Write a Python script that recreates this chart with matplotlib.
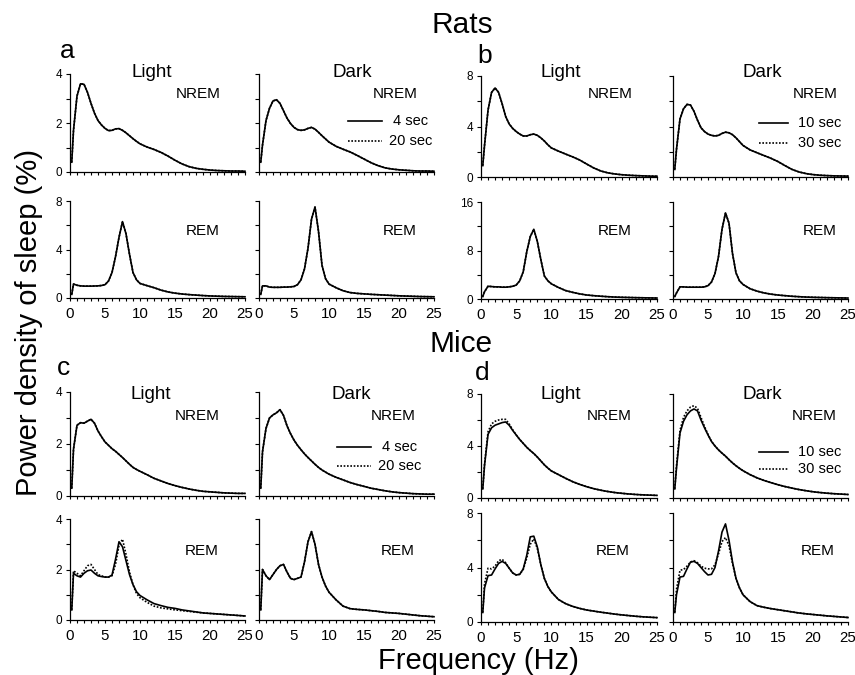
import matplotlib
matplotlib.use('Agg')
import matplotlib.pyplot as plt
from matplotlib.ticker import MultipleLocator
from matplotlib.lines import Line2D

plt.rcParams['font.family'] = ['Liberation Sans', 'DejaVu Sans']

# ---------------- data ----------------
freq = [0.25, 0.5, 1, 1.5, 2, 2.5, 3, 3.5, 4, 4.5, 5, 5.5, 6, 6.5, 7, 7.5, 8, 8.5, 9, 9.5,
        10, 11, 12, 13, 14, 15, 16, 17, 18, 19, 20, 21, 22, 23, 24, 25]

# Rats (a: 4 s vs 20 s epochs; b: 10 s vs 30 s epochs)
rat_a_nrem_light = [0.4, 1.7, 3.1, 3.6, 3.58, 3.25, 2.8, 2.4, 2.1, 1.92, 1.78, 1.69, 1.70, 1.76, 1.77, 1.70, 1.60, 1.48, 1.36, 1.25,
                    1.15, 1.02, 0.92, 0.80, 0.65, 0.48, 0.33, 0.22, 0.15, 0.11, 0.08, 0.06, 0.05, 0.04, 0.04, 0.03]
rat_a_nrem_dark = [0.4, 1.1, 2.1, 2.6, 2.9, 2.95, 2.8, 2.5, 2.2, 1.98, 1.82, 1.73, 1.70, 1.72, 1.78, 1.82, 1.75, 1.62, 1.48, 1.35,
                   1.22, 1.05, 0.93, 0.82, 0.68, 0.53, 0.38, 0.26, 0.17, 0.12, 0.09, 0.07, 0.05, 0.04, 0.04, 0.03]
rat_a_rem_light = [0.3, 1.15, 1.05, 1.0, 0.98, 0.98, 0.98, 0.99, 1.0, 1.03, 1.1, 1.4, 2.1, 3.4, 5.0, 6.3, 5.3, 3.6, 2.1, 1.5,
                   1.2, 1.02, 0.85, 0.65, 0.5, 0.4, 0.33, 0.28, 0.24, 0.2, 0.17, 0.15, 0.13, 0.12, 0.11, 0.1]
rat_a_rem_dark = [0.3, 1.0, 1.0, 0.9, 0.88, 0.88, 0.88, 0.9, 0.9, 0.92, 0.95, 1.1, 1.5, 2.4, 4.1, 6.5, 7.5, 5.5, 2.7, 1.6,
                  1.15, 0.85, 0.6, 0.45, 0.38, 0.34, 0.3, 0.27, 0.24, 0.21, 0.18, 0.16, 0.14, 0.12, 0.11, 0.1]
rat_b_nrem_light = [0.9, 2.5, 5.3, 6.7, 7.05, 6.7, 5.8, 4.8, 4.2, 3.85, 3.6, 3.4, 3.25, 3.25, 3.35, 3.4, 3.3, 3.1, 2.85, 2.55,
                    2.3, 2.05, 1.82, 1.6, 1.35, 1.03, 0.72, 0.48, 0.33, 0.24, 0.18, 0.14, 0.11, 0.09, 0.07, 0.06]
rat_b_nrem_dark = [0.6, 2.2, 4.6, 5.4, 5.75, 5.7, 5.2, 4.5, 3.9, 3.6, 3.4, 3.3, 3.25, 3.3, 3.45, 3.55, 3.5, 3.35, 3.1, 2.8,
                   2.5, 2.15, 1.92, 1.7, 1.48, 1.22, 0.9, 0.6, 0.4, 0.27, 0.19, 0.14, 0.11, 0.09, 0.08, 0.07]
rat_b_rem_light = [0.4, 1.2, 2.1, 2.05, 2.0, 2.0, 1.95, 1.95, 2.0, 2.1, 2.3, 3.0, 4.5, 7.8, 10.3, 11.5, 9.5, 6.5, 3.8, 3.0,
                   2.5, 1.9, 1.4, 1.1, 0.85, 0.66, 0.55, 0.46, 0.38, 0.32, 0.28, 0.25, 0.22, 0.2, 0.18, 0.16]
rat_b_rem_dark = [0.4, 1.0, 2.0, 2.0, 1.95, 1.95, 1.95, 1.95, 1.95, 2.0, 2.2, 2.8, 4.2, 7.0, 11.5, 14.2, 12.5, 7.5, 4.3, 3.0,
                  2.4, 1.7, 1.3, 1.0, 0.8, 0.65, 0.55, 0.45, 0.38, 0.32, 0.28, 0.25, 0.22, 0.2, 0.18, 0.16]

# Mice (c: 4 s vs 20 s epochs; d: 10 s vs 30 s epochs)
mouse_c_nrem_light = [0.3, 1.8, 2.72, 2.82, 2.8, 2.88, 2.95, 2.8, 2.5, 2.28, 2.08, 1.95, 1.82, 1.72, 1.6, 1.48, 1.35, 1.22, 1.1, 1.02,
                      0.95, 0.82, 0.68, 0.58, 0.48, 0.4, 0.33, 0.27, 0.22, 0.18, 0.16, 0.14, 0.12, 0.11, 0.1, 0.1]
mouse_c_nrem_dark = [0.3, 1.7, 2.6, 3.0, 3.12, 3.2, 3.32, 3.1, 2.7, 2.4, 2.15, 1.95, 1.78, 1.62, 1.48, 1.35, 1.22, 1.1, 1.0, 0.92,
                     0.84, 0.72, 0.62, 0.52, 0.44, 0.37, 0.3, 0.25, 0.2, 0.16, 0.13, 0.11, 0.09, 0.08, 0.07, 0.07]
mouse_c_rem_light_4s = [0.4, 1.85, 1.75, 1.7, 1.85, 1.95, 1.98, 1.85, 1.75, 1.72, 1.7, 1.7, 1.78, 2.4, 3.1, 2.9, 2.35, 1.8, 1.4, 1.12,
                        0.97, 0.8, 0.65, 0.57, 0.5, 0.46, 0.4, 0.36, 0.32, 0.28, 0.26, 0.24, 0.22, 0.2, 0.18, 0.16]
mouse_c_rem_light_20s = [0.4, 1.95, 1.85, 1.75, 1.95, 2.15, 2.2, 2.0, 1.8, 1.75, 1.7, 1.7, 1.75, 2.2, 2.95, 3.2, 2.6, 1.9, 1.4, 1.05,
                         0.88, 0.7, 0.55, 0.48, 0.44, 0.4, 0.37, 0.34, 0.31, 0.28, 0.26, 0.24, 0.22, 0.2, 0.18, 0.16]
mouse_c_rem_dark = [0.4, 2.0, 1.75, 1.6, 1.8, 2.0, 2.15, 2.2, 1.9, 1.65, 1.6, 1.65, 1.7, 2.3, 3.1, 3.5, 3.0, 2.2, 1.7, 1.35,
                    1.1, 0.8, 0.55, 0.45, 0.42, 0.4, 0.37, 0.34, 0.3, 0.28, 0.26, 0.23, 0.2, 0.17, 0.15, 0.13]
mouse_d_nrem_light_10s = [0.7, 2.5, 4.9, 5.4, 5.6, 5.7, 5.8, 5.85, 5.6, 5.2, 4.85, 4.5, 4.2, 3.9, 3.65, 3.42, 3.15, 2.85, 2.55, 2.3,
                          2.08, 1.8, 1.52, 1.26, 1.05, 0.87, 0.72, 0.6, 0.5, 0.42, 0.36, 0.31, 0.27, 0.24, 0.22, 0.2]
mouse_d_nrem_light_30s = [0.7, 2.6, 5.1, 5.7, 5.9, 6.0, 6.05, 6.05, 5.7, 5.25, 4.85, 4.5, 4.2, 3.9, 3.65, 3.42, 3.15, 2.85, 2.55, 2.3,
                          2.08, 1.8, 1.52, 1.26, 1.05, 0.87, 0.72, 0.6, 0.5, 0.42, 0.36, 0.31, 0.27, 0.24, 0.22, 0.2]
mouse_d_nrem_dark_10s = [0.7, 2.3, 5.0, 5.9, 6.4, 6.7, 6.85, 6.7, 6.0, 5.4, 4.85, 4.35, 4.0, 3.7, 3.45, 3.22, 2.95, 2.7, 2.48, 2.28,
                         2.1, 1.8, 1.55, 1.35, 1.18, 1.02, 0.88, 0.76, 0.65, 0.56, 0.48, 0.42, 0.37, 0.33, 0.3, 0.27]
mouse_d_nrem_dark_30s = [0.7, 2.5, 5.2, 6.2, 6.7, 7.0, 7.1, 6.9, 6.2, 5.5, 4.9, 4.35, 4.0, 3.7, 3.45, 3.22, 2.95, 2.7, 2.48, 2.28,
                         2.1, 1.8, 1.55, 1.35, 1.18, 1.02, 0.88, 0.76, 0.65, 0.56, 0.48, 0.42, 0.37, 0.33, 0.3, 0.27]
mouse_d_rem_light_10s = [0.7, 2.5, 3.4, 3.45, 3.9, 4.3, 4.45, 4.3, 3.95, 3.6, 3.45, 3.5, 3.9, 4.9, 6.25, 6.3, 5.5, 4.2, 3.2, 2.6,
                         2.2, 1.65, 1.35, 1.15, 1.0, 0.88, 0.8, 0.72, 0.65, 0.58, 0.52, 0.47, 0.42, 0.38, 0.35, 0.32]
mouse_d_rem_light_30s = [0.7, 2.8, 3.95, 3.9, 4.1, 4.5, 4.6, 4.35, 3.95, 3.6, 3.45, 3.5, 3.85, 4.7, 5.7, 6.1, 5.4, 4.2, 3.2, 2.6,
                         2.2, 1.65, 1.35, 1.15, 1.0, 0.88, 0.8, 0.72, 0.65, 0.58, 0.52, 0.47, 0.42, 0.38, 0.35, 0.32]
mouse_d_rem_dark_10s = [0.7, 2.0, 3.3, 3.35, 3.9, 4.4, 4.45, 4.3, 4.0, 3.7, 3.45, 3.5, 4.0, 5.2, 6.6, 7.2, 6.0, 4.4, 3.2, 2.5,
                        2.0, 1.5, 1.2, 1.08, 0.98, 0.9, 0.82, 0.74, 0.66, 0.6, 0.55, 0.5, 0.45, 0.41, 0.37, 0.33]
mouse_d_rem_dark_30s = [0.7, 2.4, 3.8, 3.85, 4.1, 4.4, 4.5, 4.35, 4.1, 3.95, 3.9, 3.9, 4.2, 5.0, 5.9, 6.2, 5.6, 4.3, 3.2, 2.5,
                        2.0, 1.5, 1.2, 1.08, 0.98, 0.9, 0.82, 0.74, 0.66, 0.6, 0.55, 0.5, 0.45, 0.41, 0.37, 0.33]

xticks = [0, 5, 10, 15, 20, 25]

# ---------------- figure ----------------
W, H = 855, 675
fig = plt.figure(figsize=(W / 100, H / 100), dpi=100)


def fx(x):
    return x / W


def fy(y):
    return 1 - y / H


def make_ax(x0, x1, ytop, ybot, ymax, ymajor, xlabels, ylabels):
    ax = fig.add_axes([fx(x0), fy(ybot), (x1 - x0) / W, (ybot - ytop) / H])
    ax.set_xlim(0, 25)
    ax.set_ylim(0, ymax)
    for s in ('top', 'right'):
        ax.spines[s].set_visible(False)
    for s in ('left', 'bottom'):
        ax.spines[s].set_linewidth(0.9)
    ax.set_xticks(xticks)
    ax.xaxis.set_minor_locator(MultipleLocator(1))
    ax.yaxis.set_major_locator(MultipleLocator(ymajor))
    ax.yaxis.set_minor_locator(MultipleLocator(ymajor / 2))
    ax.tick_params(axis='x', which='both', direction='out', length=2.5, width=0.8,
                   labelsize=10.8, pad=4, labelbottom=xlabels)
    ax.tick_params(axis='y', which='both', direction='out', length=3, width=0.8,
                   labelsize=8.5, pad=2.5, labelleft=ylabels)
    ax.patch.set_alpha(0)
    return ax


def draw(ax, solid, dotted):
    ax.plot(freq, dotted, color='black', lw=1.2, linestyle=(0, (1, 1)), clip_on=False)
    ax.plot(freq, solid, color='black', lw=1.2, clip_on=False)


# columns (pixel x ranges)
colL_left = (70, 245)
colD_left = (259, 434)
colL_right = (481, 657)
colD_right = (673, 848)

panels = [
    # (cols, ytop, ybot, ymax, ymajor, solid, dotted, xlabels, ylabels)
    (colL_left, 74, 172, 4, 2, rat_a_nrem_light, rat_a_nrem_light, False, True),
    (colD_left, 74, 172, 4, 2, rat_a_nrem_dark, rat_a_nrem_dark, False, False),
    (colL_left, 201, 298, 8, 4, rat_a_rem_light, rat_a_rem_light, True, True),
    (colD_left, 201, 298, 8, 4, rat_a_rem_dark, rat_a_rem_dark, True, False),
    (colL_right, 76, 177, 8, 4, rat_b_nrem_light, rat_b_nrem_light, False, True),
    (colD_right, 76, 177, 8, 4, rat_b_nrem_dark, rat_b_nrem_dark, False, False),
    (colL_right, 202, 299, 16, 8, rat_b_rem_light, rat_b_rem_light, True, True),
    (colD_right, 202, 299, 16, 8, rat_b_rem_dark, rat_b_rem_dark, True, False),
    (colL_left, 392, 496, 4, 2, mouse_c_nrem_light, mouse_c_nrem_light, False, True),
    (colD_left, 392, 496, 4, 2, mouse_c_nrem_dark, mouse_c_nrem_dark, False, False),
    (colL_left, 519, 620, 4, 2, mouse_c_rem_light_4s, mouse_c_rem_light_20s, True, True),
    (colD_left, 519, 620, 4, 2, mouse_c_rem_dark, mouse_c_rem_dark, True, False),
    (colL_right, 394, 498, 8, 4, mouse_d_nrem_light_10s, mouse_d_nrem_light_30s, False, True),
    (colD_right, 394, 498, 8, 4, mouse_d_nrem_dark_10s, mouse_d_nrem_dark_30s, False, False),
    (colL_right, 513, 622, 8, 4, mouse_d_rem_light_10s, mouse_d_rem_light_30s, True, True),
    (colD_right, 513, 622, 8, 4, mouse_d_rem_dark_10s, mouse_d_rem_dark_30s, True, False),
]

for cols, yt, yb, ymax, ymaj, solid, dotted, xl, yl in panels:
    ax = make_ax(cols[0], cols[1], yt, yb, ymax, ymaj, xl, yl)
    draw(ax, solid, dotted)


def ftext(x, y, s, size, ha='center', va='center', **kw):
    fig.text(fx(x), fy(y), s, fontsize=size, ha=ha, va=va, **kw)


# section titles
ftext(462, 25, 'Rats', 21.5)
ftext(461, 344, 'Mice', 21.5)

# panel letters
ftext(60, 58, 'a', 19, ha='left', va='baseline')
ftext(477, 63, 'b', 19, ha='left', va='baseline')
ftext(57, 375, 'c', 19, ha='left', va='baseline')
ftext(475, 380, 'd', 19, ha='left', va='baseline')

# Light / Dark headers
for x, y, s in [(152, 77, 'Light'), (352, 77, 'Dark'), (561, 77, 'Light'), (762, 77, 'Dark'),
                (151, 399, 'Light'), (351, 399, 'Dark'), (561, 399, 'Light'), (762, 399, 'Dark')]:
    ftext(x, y, s, 13.5, va='baseline')

# state labels
for x, y, s in [(198, 94, 'NREM'), (395, 94, 'NREM'), (610, 94, 'NREM'), (815, 94, 'NREM'),
                (203, 231, 'REM'), (400, 231, 'REM'), (615, 231, 'REM'), (820, 231, 'REM'),
                (197, 416, 'NREM'), (393, 416, 'NREM'), (609, 416, 'NREM'), (814, 416, 'NREM'),
                (202, 551, 'REM'), (398, 551, 'REM'), (613, 551, 'REM'), (818, 551, 'REM')]:
    ftext(x, y, s, 11)

# legends
legends = [
    ((348, 382), (121, 141), 411, ('4 sec', '20 sec')),
    ((759, 788), (123, 143), 820, ('10 sec', '30 sec')),
    ((337, 371), (447, 466), 400, ('4 sec', '20 sec')),
    ((759, 788), (452, 469), 820, ('10 sec', '30 sec')),
]
for (lx0, lx1), (y1, y2), tx, (t1, t2) in legends:
    fig.add_artist(Line2D([fx(lx0), fx(lx1)], [fy(y1), fy(y1)], color='black', lw=1.2,
                          transform=fig.transFigure))
    fig.add_artist(Line2D([fx(lx0), fx(lx1)], [fy(y2), fy(y2)], color='black', lw=1.2,
                          linestyle=(0, (1, 1)), transform=fig.transFigure))
    ftext(tx, y1, t1, 10.5)
    ftext(tx, y2, t2, 10.5)

# axis titles
ftext(478, 661, 'Frequency (Hz)', 21)
ftext(29, 322, 'Power density of sleep (%)', 21, rotation=90)

fig.savefig('out.png', dpi=100)
